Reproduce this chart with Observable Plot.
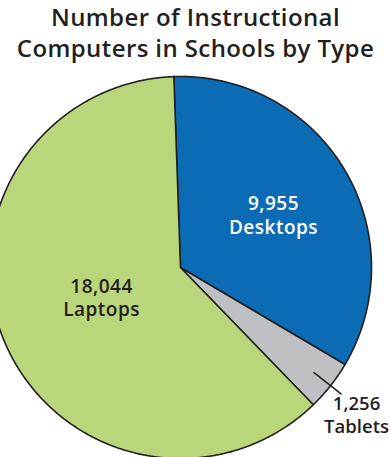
<!DOCTYPE html>
<html><head><meta charset="utf-8">
<script src="https://cdn.jsdelivr.net/npm/d3@7"></script>
<script src="https://cdn.jsdelivr.net/npm/@observablehq/plot@0.6"></script>
<style>
body{margin:0;background:#fff;overflow:hidden}
#title{font-family:"Open Sans",sans-serif;font-weight:600;font-size:24px;letter-spacing:0.4px;color:#231f20;text-align:center;line-height:31px;height:66px;padding-top:1px;box-sizing:border-box;white-space:nowrap}
#chart svg{display:block}
#chart .inlabel, #chart .inlabel text{letter-spacing:0.5px}
</style></head><body>
<div id="title">Number of Instructional<br>Computers in Schools by Type</div>
<div id="chart"></div>
<script>
const types = ["Desktops", "Tablets", "Laptops"];
const counts = [9955, 1256, 18044];
const countLabels = ["9,955", "1,256", "18,044"];
const colors = ["#0b6cb5", "#bfc0c4", "#bad67a"];

const W = 391, H = 391, cx = 180, cy = 201, R = 191;
const start = -2 * Math.PI / 180;
const arcs = d3.pie().sort(null).startAngle(start).endAngle(start + 2 * Math.PI)(counts);

const pts = [];
arcs.forEach((a, i) => {
  pts.push({type: types[i], x: 0, y: 0});
  const n = Math.max(2, Math.ceil((a.endAngle - a.startAngle) / 0.005));
  for (let k = 0; k <= n; k++) {
    const t = a.startAngle + (a.endAngle - a.startAngle) * k / n;
    pts.push({type: types[i], x: Math.sin(t), y: Math.cos(t)});
  }
  pts.push({type: types[i], x: 0, y: 0});
});

const mid = arcs.map(a => (a.startAngle + a.endAngle) / 2);
const polar = (i, r) => ({x: r * Math.sin(mid[i]), y: r * Math.cos(mid[i])});

const inside = [
  {...polar(0, 0.53), text: countLabels[0] + "\n" + types[0]},
  {...polar(2, 0.5), text: countLabels[2] + "\n" + types[2]}
];
const outside = [{...polar(1, 1.2), text: countLabels[1] + "\n" + types[1]}];
const leader = [polar(1, 0.89), polar(1, 1.07)];

const chart = Plot.plot({
  width: W, height: H,
  margin: 0,
  x: {domain: [-cx / R, (W - cx) / R], range: [0, W], axis: null},
  y: {domain: [-(H - cy) / R, cy / R], range: [H, 0], axis: null},
  color: {domain: types, range: colors},
  style: {fontFamily: "'Open Sans', sans-serif", background: "#fff"},
  marks: [
    Plot.line(pts, {x: "x", y: "y", z: "type", fill: "type", stroke: "#231f20", strokeWidth: 1.6, strokeLinejoin: "round", curve: "linear"}),
    Plot.line(leader, {x: "x", y: "y", stroke: "#231f20", strokeWidth: 1.6}),
    Plot.text(inside.slice(0, 1), {x: "x", y: "y", text: "text", fill: "#ffffff", dx: 6, dy: -1, fontSize: 19, fontWeight: 600, lineHeight: 1.26, className: "inlabel"}),
    Plot.text(inside.slice(1), {x: "x", y: "y", text: "text", fill: "#231f20", dx: 9, dy: -8, fontSize: 19, fontWeight: 600, lineHeight: 1.26, className: "inlabel"}),
    Plot.text(outside, {x: "x", y: "y", text: "text", fill: "#231f20", dx: -4, dy: 5, fontSize: 18.5, fontWeight: 600, lineHeight: 1.26})
  ]
});
document.getElementById("chart").appendChild(chart);
</script>
</body></html>
